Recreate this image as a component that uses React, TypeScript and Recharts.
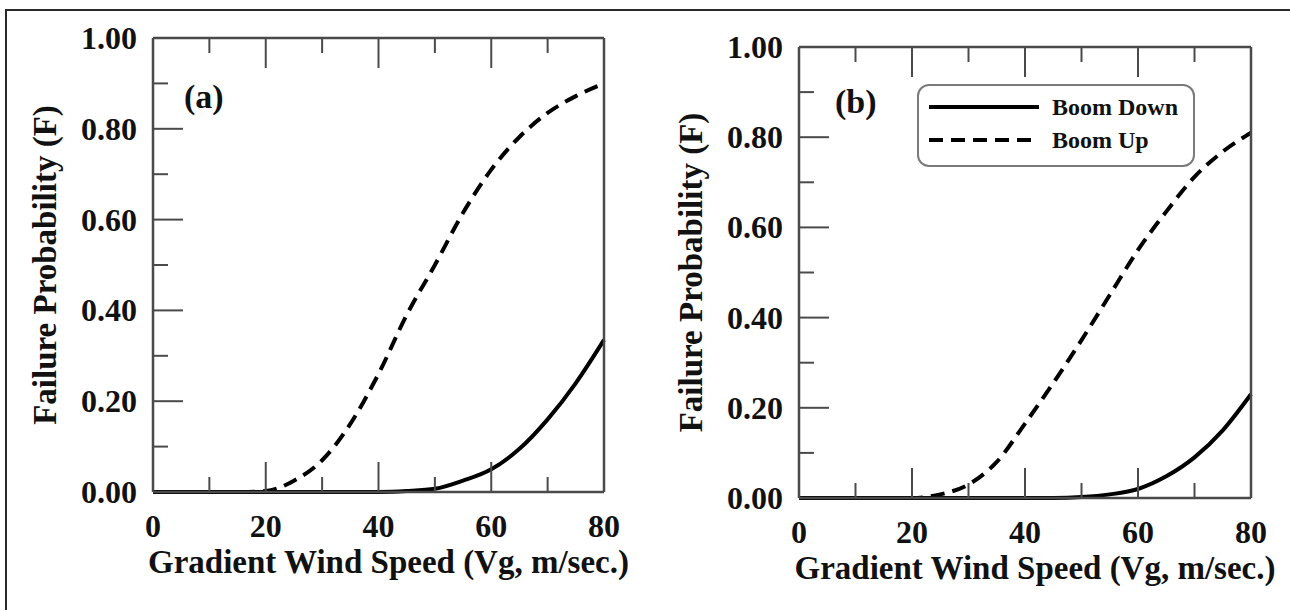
import React from "react";
import { LineChart, Line, XAxis, YAxis, Legend } from "recharts";

// wind speed (m/s) and failure probability
const windSpeed = [0, 5, 10, 15, 20, 25, 30, 35, 40, 45, 50, 55, 60, 65, 70, 75, 80];
const boomDownA = [0, 0, 0, 0, 0, 0, 0, 0, 0, 0.002, 0.007, 0.025, 0.05, 0.095, 0.16, 0.24, 0.335];
const boomUpA = [0, 0, 0, 0, 0.002, 0.025, 0.07, 0.15, 0.26, 0.39, 0.5, 0.615, 0.71, 0.782, 0.835, 0.872, 0.9];
const boomDownB = [0, 0, 0, 0, 0, 0, 0, 0, 0, 0, 0.002, 0.008, 0.02, 0.048, 0.09, 0.15, 0.23];
const boomUpB = [0, 0, 0, 0, 0, 0.008, 0.03, 0.08, 0.165, 0.255, 0.35, 0.45, 0.55, 0.635, 0.712, 0.768, 0.81];

const xTicks = [0, 10, 20, 30, 40, 50, 60, 70, 80];
const yTicks = [0, 0.1, 0.2, 0.3, 0.4, 0.5, 0.6, 0.7, 0.8, 0.9, 1];
const seriesNames = ["Boom Down", "Boom Up"];
const seriesDash = ["", "14 8"];
const xTitle = "Gradient Wind Speed (Vg, m/sec.)";
const yTitle = "Failure Probability (F)";

const FONT = '"Liberation Serif", "Times New Roman", serif';
const AXIS = "#4a4a4a";
const INK = "#111";
const MAJOR = 30;
const MINOR = 15;

const toRows = (down: number[], up: number[]) =>
  windSpeed.map((v, i) => ({ v, down: down[i], up: up[i] }));

const isMajorX = (v: number) => v % 20 === 0;
const isMajorY = (v: number) => Math.round(v * 10) % 2 === 0;

function BottomTick({ x, y, payload }: any) {
  const v = payload.value;
  const major = isMajorX(v);
  return (
    <g>
      <line x1={x} x2={x} y1={y} y2={y - (major ? MAJOR : MINOR)} stroke={AXIS} strokeWidth={2} />
      {major && (
        <text x={x} y={y + 45} textAnchor="middle" fontFamily={FONT} fontWeight="bold" fontSize={32} fill={INK}>
          {v}
        </text>
      )}
    </g>
  );
}

function TopTick({ x, y, payload }: any) {
  const major = isMajorX(payload.value);
  return <line x1={x} x2={x} y1={y} y2={y + (major ? MAJOR : MINOR)} stroke={AXIS} strokeWidth={2} />;
}

function LeftTick({ x, y, payload }: any) {
  const v = payload.value;
  const major = isMajorY(v);
  return (
    <g>
      <line x1={x} x2={x + (major ? MAJOR : MINOR)} y1={y} y2={y} stroke={AXIS} strokeWidth={2} />
      {major && (
        <text x={x - 16} y={y + 11} textAnchor="end" fontFamily={FONT} fontWeight="bold" fontSize={32} fill={INK}>
          {v.toFixed(2)}
        </text>
      )}
    </g>
  );
}

function RightTick({ x, y, payload }: any) {
  const major = isMajorY(payload.value);
  return <line x1={x} x2={x - (major ? MAJOR : MINOR)} y1={y} y2={y} stroke={AXIS} strokeWidth={2} />;
}

function XTitle({ viewBox }: any) {
  const { x, y, width } = viewBox;
  return (
    <text x={x + width / 2 + 10} y={y + 81} textAnchor="middle" fontFamily={FONT} fontWeight="bold" fontSize={33} fill={INK}>
      {xTitle}
    </text>
  );
}

function YTitle({ viewBox }: any) {
  const { x, y, width, height } = viewBox;
  const cx = x + width - 108;
  const cy = y + height / 2;
  return (
    <text
      x={cx}
      y={cy}
      transform={`rotate(-90, ${cx}, ${cy})`}
      textAnchor="middle"
      dominantBaseline="central"
      fontFamily={FONT}
      fontWeight="bold"
      fontSize={33}
      fill={INK}
    >
      {yTitle}
    </text>
  );
}

function LegendBox({ payload }: any) {
  return (
    <div
      style={{
        position: "relative",
        width: 278,
        height: 83,
        border: "2px solid #7a7a7a",
        borderRadius: 12,
        boxSizing: "border-box",
        background: "#fff",
      }}
    >
      {(payload || []).map((entry: any, i: number) => {
        const idx = seriesNames.indexOf(entry.value);
        return (
          <div
            key={entry.value}
            style={{ position: "absolute", left: 8, top: 6 + i * 33, height: 30, display: "flex", alignItems: "center" }}
          >
            <svg width={114} height={10}>
              <line x1={2} x2={112} y1={5} y2={5} stroke="#000" strokeWidth={4} strokeDasharray={seriesDash[idx] || undefined} />
            </svg>
            <span style={{ marginLeft: 11, fontFamily: FONT, fontWeight: "bold", fontSize: 24, color: INK, whiteSpace: "nowrap" }}>
              {entry.value}
            </span>
          </div>
        );
      })}
    </div>
  );
}

function Panel({
  data,
  width,
  margin,
  showLegend,
}: {
  data: { v: number; down: number; up: number }[];
  width: number;
  margin: { top: number; right: number; bottom: number; left: number };
  showLegend?: boolean;
}) {
  return (
    <LineChart width={width} height={610} data={data} margin={margin}>
      <XAxis
        dataKey="v"
        type="number"
        domain={[0, 80]}
        ticks={xTicks}
        interval={0}
        height={90}
        tickSize={0}
        tickMargin={0}
        tick={<BottomTick />}
        axisLine={{ stroke: AXIS, strokeWidth: 2.5 }}
        label={(p: any) => <XTitle {...p} />}
      />
      <XAxis
        xAxisId="top"
        orientation="top"
        dataKey="v"
        type="number"
        domain={[0, 80]}
        ticks={xTicks}
        interval={0}
        height={1}
        tickSize={0}
        tickMargin={0}
        tick={<TopTick />}
        axisLine={{ stroke: AXIS, strokeWidth: 2.5 }}
      />
      <YAxis
        type="number"
        domain={[0, 1]}
        ticks={yTicks}
        interval={0}
        width={100}
        tickSize={0}
        tickMargin={0}
        tick={<LeftTick />}
        axisLine={{ stroke: AXIS, strokeWidth: 2.5 }}
        label={(p: any) => <YTitle {...p} />}
      />
      <YAxis
        yAxisId="right"
        orientation="right"
        type="number"
        domain={[0, 1]}
        ticks={yTicks}
        interval={0}
        width={1}
        tickSize={0}
        tickMargin={0}
        tick={<RightTick />}
        axisLine={{ stroke: AXIS, strokeWidth: 2.5 }}
      />
      {showLegend && (
        <Legend
          layout="horizontal"
          verticalAlign="middle"
          align="center"
          wrapperStyle={{ left: 272, top: 84, width: 278, height: 83 }}
          content={<LegendBox />}
        />
      )}
      <Line
        name={seriesNames[0]}
        dataKey="down"
        type="monotone"
        stroke="#000"
        strokeWidth={4}
        dot={false}
        isAnimationActive={false}
      />
      <Line
        name={seriesNames[1]}
        dataKey="up"
        type="monotone"
        stroke="#000"
        strokeWidth={4}
        strokeDasharray={seriesDash[1]}
        dot={false}
        isAnimationActive={false}
      />
    </LineChart>
  );
}

const tagStyle: React.CSSProperties = {
  position: "absolute",
  fontFamily: FONT,
  fontWeight: "bold",
  fontSize: 34,
  lineHeight: 1,
  color: INK,
};

export default function App() {
  return (
    <div style={{ position: "absolute", left: 0, top: 0, width: 1290, height: 610, background: "#fff", overflow: "hidden" }}>
      <div
        style={{
          position: "absolute",
          left: 5,
          top: 9,
          width: 1300,
          height: 620,
          borderLeft: "2px solid #2a2a2a",
          borderTop: "2px solid #2a2a2a",
        }}
      />
      <div style={{ position: "absolute", left: 0, top: 0 }}>
        <Panel data={toRows(boomDownA, boomUpA)} width={642} margin={{ top: 37, right: 37, bottom: 28, left: 53 }} />
        <div style={{ ...tagStyle, left: 184, top: 80 }}>(a)</div>
      </div>
      <div style={{ position: "absolute", left: 645, top: 0 }}>
        <Panel data={toRows(boomDownB, boomUpB)} width={645} margin={{ top: 46, right: 38, bottom: 22, left: 54 }} showLegend />
        <div style={{ ...tagStyle, left: 190, top: 85 }}>(b)</div>
      </div>
    </div>
  );
}
